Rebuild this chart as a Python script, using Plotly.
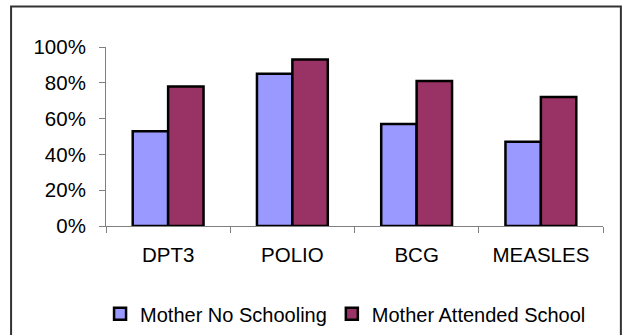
import plotly.graph_objects as go

categories = ["DPT3", "POLIO", "BCG", "MEASLES"]
no_schooling = [0.53, 0.85, 0.57, 0.47]
attended_school = [0.78, 0.93, 0.81, 0.72]
y_ticks = [0, 0.2, 0.4, 0.6, 0.8, 1.0]
y_tick_labels = ["0%", "20%", "40%", "60%", "80%", "100%"]

FONT = "Liberation Sans, Arial, sans-serif"

fig = go.Figure()
fig.add_trace(go.Bar(
    name="Mother No Schooling", x=categories, y=no_schooling,
    marker=dict(color="#9999FF", line=dict(color="#000000", width=2.5)),
))
fig.add_trace(go.Bar(
    name="Mother Attended School", x=categories, y=attended_school,
    marker=dict(color="#993366", line=dict(color="#000000", width=2.5)),
))

fig.update_layout(
    template="none",
    width=624, height=335,
    margin=dict(l=106, r=21, t=47, b=109, autoexpand=False),
    paper_bgcolor="white", plot_bgcolor="white",
    barmode="group", bargap=0.43, bargroupgap=0,
    font=dict(family=FONT, size=20.5, color="#000000"),
    showlegend=True,
    legend=dict(
        orientation="h", x=0.482, xanchor="center", y=-0.49, yanchor="middle",
        font=dict(family=FONT, size=20, color="#000000"),
        itemwidth=30, tracegroupgap=0, bgcolor="rgba(0,0,0,0)",
    ),
    xaxis=dict(
        automargin=False,
        showline=True, linecolor="#808080", linewidth=1,
        ticks="outside", ticklen=6, tickcolor="#808080", tickson="boundaries",
        showgrid=False, zeroline=False, ticklabelstandoff=10,
    ),
    yaxis=dict(
        automargin=False,
        range=[0, 1], tickvals=y_ticks, ticktext=y_tick_labels,
        showline=True, linecolor="#808080", linewidth=1,
        ticks="outside", ticklen=6, tickcolor="#808080",
        showgrid=False, zeroline=False, ticklabelstandoff=9,
    ),
    shapes=[
        dict(type="path", xref="paper", yref="paper",
             path="M -0.191,-0.65 L -0.191,1.226 L 1.036,1.226 L 1.036,-0.65",
             line=dict(color="#333333", width=2)),
    ],
)

fig.write_html(
    "out.html",
    config={"displayModeBar": False},
    post_script="document.body.style.margin='0px';document.body.style.overflow='hidden';",
)
